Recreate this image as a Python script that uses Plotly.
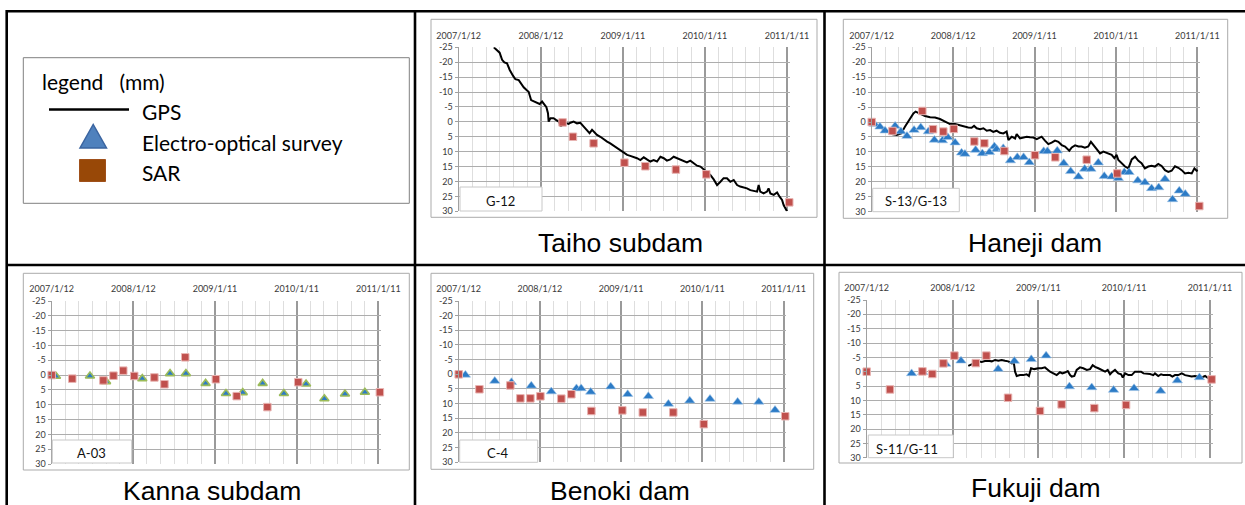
import pandas as pd
import plotly.graph_objects as go

W, H = 1245, 505
BASE = pd.Timestamp("2007-01-12")

# ---------------- data (days since 2007/1/12, displacement in mm) ----------------
# Taiho subdam (G-12)
taiho_gps_day = [156, 170, 182, 193, 203, 215, 227, 242, 252, 267, 277, 289, 304, 311, 322, 336, 348, 360, 371, 378,
                 390, 397, 400, 408, 422, 434, 445, 455, 462, 474, 489, 497, 511, 526, 541, 556, 571, 582, 593, 603,
                 615, 630, 645, 660, 674, 689, 704, 719, 734, 749, 763, 778, 793, 808, 823, 837, 852, 867, 882, 897,
                 912, 926, 941, 956, 971, 986, 1001, 1015, 1030, 1045, 1060, 1075, 1089, 1104, 1119, 1134, 1149, 1164, 1178, 1193,
                 1208, 1223, 1238, 1252, 1267, 1282, 1297, 1312, 1327, 1334, 1341, 1356, 1371, 1378, 1386, 1401, 1416, 1427, 1438, 1445,
                 1460]
taiho_gps_mm = [-25.0, -23.9, -23.2, -20.8, -19.9, -19.6, -17.4, -15.4, -14.3, -14.0, -12.9, -11.6, -10.5, -10.1, -7.3, -6.8, -6.4, -6.0, -6.8, -6.0,
                -4.9, -2.9, -0.1, -1.2, -1.2, -0.6, -0.1, 1.6, 0.5, 0.3, 0.7, 0.3, -0.1, 0.5, 0.3, 1.6, 3.0, 3.8, 2.7, 3.6,
                4.4, 5.0, 5.9, 6.6, 7.2, 8.0, 8.9, 9.7, 10.3, 11.1, 11.4, 11.7, 12.2, 12.8, 11.9, 12.6, 13.3, 12.8, 13.3, 11.7,
                12.2, 13.0, 12.6, 11.7, 12.2, 12.8, 13.3, 13.6, 13.0, 13.9, 14.7, 15.0, 15.9, 16.7, 17.8, 19.3, 21.2, 20.1, 18.9, 18.9,
                20.1, 19.5, 21.2, 21.7, 22.0, 22.3, 22.9, 23.1, 23.4, 21.2, 23.4, 24.0, 23.4, 22.3, 24.0, 24.5, 23.7, 25.1, 26.2, 27.9,
                30.0]
taiho_sar_day = [462, 508, 600, 737, 830, 966, 1101, 1470]
taiho_sar_mm = [0.2, 5.0, 7.2, 13.7, 14.9, 16.0, 17.6, 27.0]

# Haneji dam (S-13/G-13)
haneji_gps_day = [0, 22, 45, 67, 90, 112, 132, 149, 172, 187, 197, 209, 224, 239, 262, 284, 306, 329, 351, 374,
                  389, 403, 418, 433, 448, 459, 471, 486, 501, 516, 531, 545, 560, 575, 590, 605, 613, 628, 643, 650,
                  665, 680, 695, 710, 725, 740, 755, 762, 777, 792, 807, 822, 837, 852, 867, 886, 897, 912, 927, 941,
                  956, 971, 983, 994, 1009, 1024, 1039, 1058, 1076, 1088, 1098, 1106, 1121, 1136, 1151, 1166, 1181, 1196, 1210, 1225,
                  1240, 1255, 1270, 1285, 1300, 1315, 1330, 1345, 1360, 1375, 1390, 1405, 1420, 1435, 1447, 1457, 1462]
haneji_gps_mm = [0.0, 1.0, 2.1, 3.2, 4.0, 4.3, 3.8, 1.6, -1.2, -2.9, -3.5, -3.1, -2.7, -2.0, -1.6, -1.5, -1.0, -0.1, 0.7, 0.7,
                 1.0, 1.3, 1.6, 1.8, 1.9, 1.3, 2.1, 2.4, 2.1, 2.9, 2.7, 3.3, 2.9, 3.6, 3.8, 3.2, 6.0, 4.9, 5.5, 4.0,
                 5.5, 5.1, 4.9, 5.1, 5.2, 5.7, 5.1, 4.9, 6.2, 7.4, 6.9, 6.2, 6.6, 7.7, 8.2, 9.6, 8.5, 7.8, 8.2, 8.2,
                 8.6, 8.2, 6.6, 7.7, 9.4, 10.5, 9.9, 10.5, 11.0, 12.1, 11.0, 12.7, 13.8, 14.9, 15.5, 12.5, 11.6, 13.0, 13.8, 15.5,
                 14.9, 14.6, 14.9, 14.0, 14.7, 16.1, 16.7, 16.3, 14.8, 15.3, 16.1, 17.2, 17.0, 17.2, 15.5, 16.3, 16.1]
haneji_eo_day = [12, 37, 60, 105, 131, 158, 190, 220, 254, 281, 317, 341, 374, 403, 418, 466, 496, 528, 550, 560,
                 590, 622, 653, 681, 707, 771, 788, 832, 861, 892, 927, 955, 983, 1016, 1043, 1076, 1106, 1133, 1154, 1193,
                 1225, 1255, 1287, 1315, 1349, 1379, 1406]
haneji_eo_mm = [0.7, 1.6, 2.9, 1.3, 3.2, 4.7, 2.7, 1.8, 3.2, 6.0, 6.2, 5.1, 6.9, 10.3, 10.7, 9.4, 10.5, 10.1, 8.2, 9.1,
                8.8, 12.9, 11.8, 11.8, 13.5, 9.8, 9.8, 9.6, 13.8, 16.5, 18.3, 15.7, 15.7, 13.6, 18.1, 18.3, 18.8, 16.8, 16.8, 19.6,
                20.2, 22.2, 21.9, 19.1, 25.9, 23.0, 24.1]
haneji_sar_day = [0, 93, 227, 275, 321, 368, 460, 505, 595, 732, 823, 964, 1101, 1469]
haneji_sar_mm = [0.0, 3.0, -3.7, 2.4, 3.2, 2.3, 6.5, 7.1, 9.7, 11.1, 11.8, 12.6, 17.2, 28.1]

# Kanna subdam (A-03)
kanna_eo_day = [19, 171, 243, 405, 529, 600, 688, 779, 854, 943, 1038, 1137, 1219, 1311, 1400]
kanna_eo_mm = [0.4, 0.3, 2.2, 1.2, -0.5, -0.5, 2.8, 6.2, 5.9, 2.8, 6.2, 3.0, 8.0, 6.4, 5.8]
kanna_sar_day = [0, 92, 231, 276, 320, 369, 459, 504, 597, 734, 827, 964, 1102, 1467]
kanna_sar_mm = [0.0, 1.2, 1.8, 0.2, -1.5, 0.3, 0.8, 3.1, -6.0, 1.4, 7.1, 10.8, 2.4, 5.8]

# Benoki dam (C-4)
benoki_eo_day = [30, 162, 237, 326, 416, 529, 550, 593, 683, 759, 852, 942, 1038, 1129, 1253, 1348, 1421]
benoki_eo_mm = [0.2, 2.3, 2.7, 3.9, 5.9, 4.8, 4.8, 6.0, 4.2, 6.8, 7.5, 10.1, 9.0, 8.4, 9.4, 9.4, 12.2]
benoki_sar_day = [0, 93, 232, 277, 322, 367, 461, 506, 596, 735, 827, 964, 1101, 1467]
benoki_sar_mm = [0.0, 5.1, 3.8, 8.2, 8.2, 7.5, 8.3, 6.8, 12.5, 12.3, 13.0, 13.0, 17.0, 14.3]

# Fukuji dam (S-11/G-11)
fukuji_gps_day = [432, 447, 461, 475, 489, 503, 517, 532, 546, 560, 574, 588, 602, 617, 624, 631, 638, 652, 666, 680,
                  690, 699, 713, 730, 744, 758, 770, 780, 794, 808, 822, 832, 843, 855, 865, 872, 883, 893, 907, 921,
                  936, 950, 961, 971, 985, 999, 1014, 1025, 1035, 1042, 1056, 1070, 1082, 1089, 1099, 1113, 1127, 1141, 1152, 1167,
                  1177, 1191, 1205, 1219, 1226, 1240, 1252, 1262, 1276, 1290, 1300, 1311, 1325, 1340, 1354, 1368, 1382, 1396, 1410, 1425,
                  1439, 1453, 1460]
fukuji_gps_mm = [-2.0, -2.7, -3.1, -3.6, -3.4, -3.7, -3.8, -3.6, -4.1, -3.8, -4.1, -3.8, -3.6, -2.9, -4.1, 0.0, 1.5, 1.2, 1.2, 0.9,
                 1.5, -1.2, -0.9, -1.2, -1.2, -1.5, -0.6, 0.0, 0.6, 1.2, 0.2, 0.6, 0.3, -0.2, 1.2, 1.7, 1.5, -0.6, -1.5, -1.2,
                 -0.6, -0.9, -2.3, -1.7, -1.2, -0.6, 0.0, -0.6, 0.9, 0.3, -0.6, 0.6, 0.9, 2.0, 0.6, 1.2, 1.2, 0.0, 0.0, 0.0,
                 0.6, 0.6, 0.8, 1.2, 0.6, 1.5, 0.9, 1.2, 1.2, 1.2, 1.7, 1.2, 1.2, 0.6, 1.2, 1.5, 1.7, 1.5, 1.7, 2.0,
                 1.5, 2.3, 2.7]
fukuji_eo_day = [191, 238, 336, 401, 559, 628, 700, 763, 862, 957, 1050, 1137, 1250, 1321, 1415]
fukuji_eo_mm = [0.6, 0.2, -2.7, -3.8, -0.9, -3.7, -4.3, -5.6, 5.2, 5.5, 6.4, 5.8, 6.7, 3.1, 2.0]
fukuji_sar_day = [0, 99, 237, 279, 326, 373, 464, 509, 601, 737, 829, 968, 1103, 1467]
fukuji_sar_mm = [0.0, 6.2, -0.1, 0.8, -2.9, -5.6, -3.0, -5.6, 9.1, 13.7, 11.4, 12.7, 11.6, 2.7]

# axis tick labels
x_tick_days = [0, 365, 730, 1095, 1460]
x_tick_labels = ["2007/1/12", "2008/1/12", "2009/1/11", "2010/1/11", "2011/1/11"]
y_tick_vals = [-25, -20, -15, -10, -5, 0, 5, 10, 15, 20, 25, 30]
y_tick_labels = [str(v) for v in y_tick_vals]

legend_title = "legend\u00a0\u00a0\u00a0(mm)"
legend_labels = ["GPS", "Electro-optical survey", "SAR"]

# ---------------- layout geometry (pixels) ----------------
END_DAY = 1472
panels = [
    dict(title="Taiho subdam", label="G-12", gps=(taiho_gps_day, taiho_gps_mm), eo=None,
         sar=(taiho_sar_day, taiho_sar_mm), x0=458.7, x1460=787.0, yt=47.3, yb=211.3,
         box=(431, 19.3, 817, 217.3), lbox=(460, 187, 542, 211), lxy=(500.7, 200.5), txy=(620.3, 242.5), eo_green=False),
    dict(title="Haneji dam", label="S-13/G-13", gps=(haneji_gps_day, haneji_gps_mm), eo=(haneji_eo_day, haneji_eo_mm),
         sar=(haneji_sar_day, haneji_sar_mm), x0=871.7, x1460=1197.3, yt=47.3, yb=211.7,
         box=(843.3, 19.3, 1227.7, 218.3), lbox=(872.7, 188.3, 959.3, 211.7), lxy=(915.8, 201), txy=(1035.3, 243), eo_green=False),
    dict(title="Kanna subdam", label="A-03", gps=None, eo=(kanna_eo_day, kanna_eo_mm),
         sar=(kanna_sar_day, kanna_sar_mm), x0=51.7, x1460=378.3, yt=301, yb=464,
         box=(23.3, 273.3, 409.3, 470), lbox=(52.3, 440, 131.7, 463), lxy=(91.7, 453), txy=(211.7, 490.5), eo_green=True),
    dict(title="Benoki dam", label="C-4", gps=None, eo=(benoki_eo_day, benoki_eo_mm),
         sar=(benoki_sar_day, benoki_sar_mm), x0=458.7, x1460=783.7, yt=301, yb=462.3,
         box=(431, 273.3, 813.7, 469.3), lbox=(459.7, 440, 537.7, 462.3), lxy=(498.3, 453), txy=(619.5, 490.5), eo_green=False),
    dict(title="Fukuji dam", label="S-11/G-11", gps=(fukuji_gps_day, fukuji_gps_mm), eo=(fukuji_eo_day, fukuji_eo_mm),
         sar=(fukuji_sar_day, fukuji_sar_mm), x0=866.7, x1460=1210.0, yt=300, yb=457.7,
         box=(839, 272.3, 1242, 463), lbox=(868.3, 435, 953.3, 457.7), lxy=(906.7, 448.5), txy=(1036.3, 488), eo_green=False),
]


def to_dates(days):
    return [(BASE + pd.Timedelta(days=float(d))).strftime("%Y-%m-%d %H:%M:%S") for d in days]


def fx(px):
    return px / W


def fy(py):
    return 1 - py / H


FONT = "Lato, Calibri, Carlito, sans-serif"
TITLE_FONT = "Liberation Sans, Arial, sans-serif"
RED = "#C0504D"
BLUE = "#2C7BC6"
GREEN = "#9BBB59"

fig = go.Figure()
shapes = []
annotations = []
layout = {}

minor_days = [k * 365 / 6 for k in range(0, 25) if k % 6 != 0]

for i, p in enumerate(panels, start=1):
    sfx = "" if i == 1 else str(i)
    xa, ya = "x" + sfx, "y" + sfx
    if p["gps"]:
        d, v = p["gps"]
        fig.add_trace(go.Scatter(x=to_dates(d), y=v, mode="lines", line=dict(color="black", width=2),
                                 xaxis=xa, yaxis=ya, showlegend=False, hoverinfo="skip"))
    if p["eo"]:
        d, v = p["eo"]
        if p["eo_green"]:
            mk = dict(symbol="triangle-up", size=8, color=BLUE, line=dict(color=GREEN, width=1.6))
        else:
            mk = dict(symbol="triangle-up", size=9, color=BLUE, line=dict(color="#9DC3E6", width=0.6))
        fig.add_trace(go.Scatter(x=to_dates(d), y=v, mode="markers", marker=mk, cliponaxis=False,
                                 xaxis=xa, yaxis=ya, showlegend=False, hoverinfo="skip"))
    d, v = p["sar"]
    fig.add_trace(go.Scatter(x=to_dates(d), y=v, mode="markers",
                             marker=dict(symbol="square", size=7.5, color=RED, line=dict(color="#E8B4B2", width=1)),
                             cliponaxis=False, xaxis=xa, yaxis=ya, showlegend=False, hoverinfo="skip"))

    ppd = (p["x1460"] - p["x0"]) / 1460
    xr = p["x0"] + ppd * END_DAY
    layout["xaxis" + sfx] = dict(
        domain=[fx(p["x0"]), fx(xr)], anchor=ya, type="date", side="top",
        range=to_dates([0, END_DAY]), tickmode="array", tickvals=to_dates(x_tick_days), ticktext=x_tick_labels,
        showgrid=True, gridcolor="#9A9A9A", gridwidth=1.5,
        minor=dict(tickvals=to_dates(minor_days), showgrid=True, gridcolor="#DEDEDE", gridwidth=1.3),
        showline=False, zeroline=False, ticks="", ticklabelstandoff=6, automargin=False,
        tickfont=dict(family=FONT, size=9, color="#3A3A3A"), fixedrange=True,
    )
    layout["yaxis" + sfx] = dict(
        domain=[fy(p["yb"]), fy(p["yt"])], anchor=xa, range=[30, -25],
        tickmode="array", tickvals=y_tick_vals, ticktext=y_tick_labels,
        showgrid=True, gridcolor="#ADADAD", gridwidth=1,
        showline=True, linecolor="#A0A0A0", linewidth=1.3, zeroline=False,
        ticks="outside", ticklen=3, tickcolor="#A0A0A0", automargin=False,
        tickfont=dict(family=FONT, size=9, color="#3A3A3A"), fixedrange=True,
    )
    # chart frame
    bx0, by0, bx1, by1 = p["box"]
    shapes.append(dict(type="rect", xref="paper", yref="paper", x0=fx(bx0), x1=fx(bx1), y0=fy(by1), y1=fy(by0),
                       line=dict(color="#ABABAB", width=1), fillcolor="rgba(0,0,0,0)", layer="above"))
    # label box
    lx0, ly0, lx1, ly1 = p["lbox"]
    shapes.append(dict(type="rect", xref="paper", yref="paper", x0=fx(lx0), x1=fx(lx1), y0=fy(ly1), y1=fy(ly0),
                       line=dict(color="#C8C8C8", width=1), fillcolor="white", layer="above"))
    annotations.append(dict(xref="paper", yref="paper", x=fx(p["lxy"][0]), y=fy(p["lxy"][1]), text=p["label"],
                            showarrow=False, xanchor="center", yanchor="middle",
                            font=dict(family=FONT, size=13, color="#111")))
    annotations.append(dict(xref="paper", yref="paper", x=fx(p["txy"][0]), y=fy(p["txy"][1]), text=p["title"],
                            showarrow=False, xanchor="center", yanchor="middle", borderpad=0,
                            font=dict(family=TITLE_FONT, size=26.5, color="black")))

# ---------------- legend cell ----------------
shapes.append(dict(type="rect", xref="paper", yref="paper", x0=fx(23.3), x1=fx(409.3), y0=fy(203.3), y1=fy(57.7),
                   line=dict(color="#808080", width=1), fillcolor="white", layer="above"))
shapes.append(dict(type="line", xref="paper", yref="paper", x0=fx(49), x1=fx(129), y0=fy(109.5), y1=fy(109.5),
                   line=dict(color="black", width=2.5), layer="above"))
shapes.append(dict(type="path", xref="paper", yref="paper",
                   path=f"M {fx(80)},{fy(148)} L {fx(106.5)},{fy(148)} L {fx(93.2)},{fy(124.5)} Z",
                   line=dict(color="#3A64A0", width=1.5), fillcolor="#4F81BD", layer="above"))
shapes.append(dict(type="rect", xref="paper", yref="paper", x0=fx(79.5), x1=fx(105.5), y0=fy(181.5), y1=fy(159.5),
                   line=dict(color="#A0501A", width=1), fillcolor="#984807", layer="above"))
annotations.append(dict(xref="paper", yref="paper", x=fx(40), y=fy(81), text=legend_title, showarrow=False,
                        xanchor="left", yanchor="middle", font=dict(family=FONT, size=21, color="black")))
for lab, yy in zip(legend_labels, [112, 142, 172]):
    annotations.append(dict(xref="paper", yref="paper", x=fx(140), y=fy(yy), text=lab, showarrow=False,
                            xanchor="left", yanchor="middle", font=dict(family=FONT, size=21, color="black")))

# ---------------- table lines ----------------
for (x0, y0, x1, y1) in [(6.5, 11.3, 1245, 11.3), (6.5, 265, 1245, 265), (6.7, 10, 6.7, 505),
                         (415, 10, 415, 505), (824.5, 10, 824.5, 505)]:
    shapes.append(dict(type="line", xref="paper", yref="paper", x0=fx(x0), x1=fx(x1), y0=fy(y0), y1=fy(y1),
                       line=dict(color="black", width=2.6), layer="above"))

fig.update_layout(
    width=W, height=H, margin=dict(l=0, r=0, t=0, b=0, pad=0, autoexpand=False),
    paper_bgcolor="white", plot_bgcolor="white",
    showlegend=False, shapes=shapes, annotations=annotations, **layout,
)

fig.write_html("out.html")
